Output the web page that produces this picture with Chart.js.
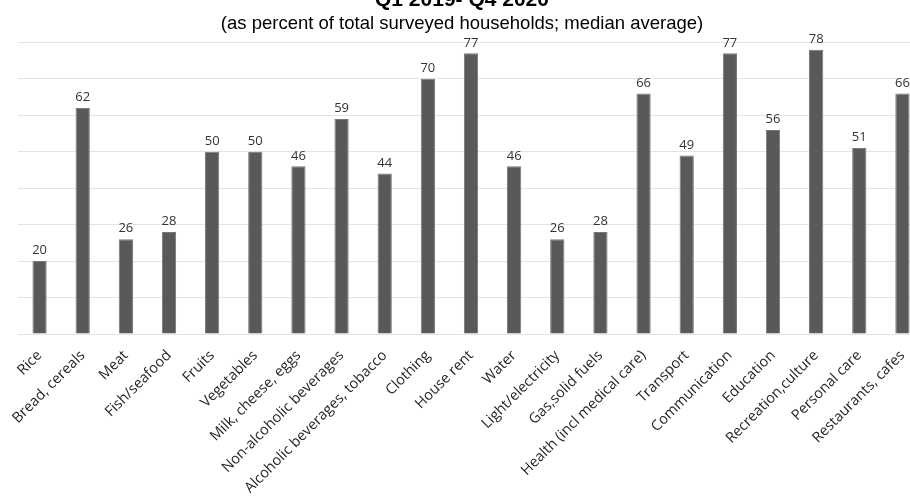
<!DOCTYPE html>
<html>
<head>
<meta charset="utf-8">
<script src="https://cdn.jsdelivr.net/npm/chart.js@4/dist/chart.umd.min.js"></script>
<style>
  html, body { margin: 0; padding: 0; background: #fff; overflow: hidden; width: 910px; height: 496px; }
  #wrap { position: absolute; left: 0; top: -14px; width: 924px; height: 510px; }
</style>
</head>
<body>
<div id="wrap"><canvas id="bar-chart" width="924" height="510"></canvas></div>
<script>
// household spending categories, Q1 2019 - Q4 2020

const categories = [
  "Rice", "Bread, cereals", "Meat", "Fish/seafood", "Fruits", "Vegetables",
  "Milk, cheese, eggs", "Non-alcoholic beverages", "Alcoholic beverages, tobacco",
  "Clothing", "House rent", "Water", "Light/electricity", "Gas,solid fuels",
  "Health (incl medical care)", "Transport", "Communication", "Education",
  "Recreation,culture", "Personal care", "Restaurants, cafes"
]
const shares = [20, 62, 26, 28, 50, 50, 46, 59, 44, 70, 77, 46, 26, 28, 66, 49, 77, 56, 78, 51, 66]

const titleText = "Q1 2019- Q4 2020"
const subtitleText = "(as percent of total surveyed households; median average)"

/* value labels above each bar */
const barValues = {
  id: 'barValues',
  afterDatasetsDraw(chart) {
    const ctx = chart.ctx
    ctx.save()
    ctx.font = '13px "Open Sans"'
    ctx.fillStyle = '#333333'
    ctx.textAlign = 'center'
    ctx.textBaseline = 'bottom'
    chart.getDatasetMeta(0).data.forEach((bar, i) => {
      ctx.fillText(shares[i], bar.x, bar.y - 4)
    })
    ctx.restore()
  }
}

new Chart(document.getElementById("bar-chart"), {
  type: 'bar',
  data: {
    labels: categories,
    datasets: [{
      data: shares,
      backgroundColor: '#595959',
      borderColor: '#777777',
      borderWidth: 1,
      categoryPercentage: 1,
      barPercentage: 0.33
    }]
  },
  options: {
    responsive: false,
    animation: false,
    layout: { padding: 0 },
    plugins: {
      legend: { display: false },
      tooltip: { enabled: false },
      title: {
        display: true,
        text: titleText,
        color: '#000',
        font: { family: '"Liberation Sans", Arial', size: 21, weight: 'bold' },
        padding: { top: 2, bottom: 0 }
      },
      subtitle: {
        display: true,
        text: subtitleText,
        color: '#000',
        font: { family: '"Liberation Sans", Arial', size: 18.5 },
        padding: { top: 0, bottom: 7 }
      }
    },
    scales: {
      x: {
        grid: { display: false },
        border: { display: false },
        ticks: {
          color: '#262626',
          font: { family: '"Open Sans"', size: 14.5 },
          minRotation: 45,
          maxRotation: 45,
          autoSkip: false,
          padding: 5
        },
        afterFit(axis) { axis.height = 162 }
      },
      y: {
        min: 0,
        max: 80,
        ticks: { display: false, stepSize: 10 },
        grid: { color: '#e4e4e4', drawTicks: false },
        border: { display: false },
        afterFit(axis) { axis.width = 18 }
      }
    }
  },
  plugins: [barValues]
});
</script>
</body>
</html>
